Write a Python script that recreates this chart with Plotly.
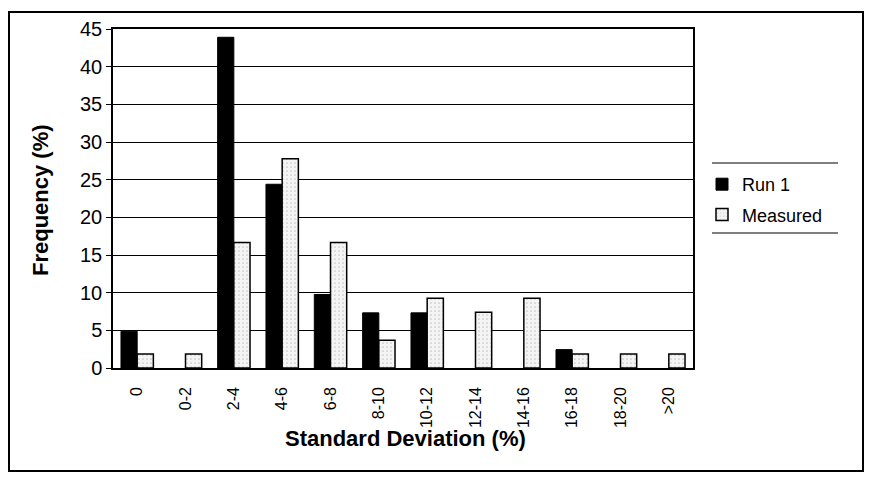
import plotly.graph_objects as go

categories = ["0", "0-2", "2-4", "4-6", "6-8", "8-10", "10-12", "12-14", "14-16", "16-18", "18-20", ">20"]
run1 = [4.88, 0, 43.9, 24.39, 9.76, 7.32, 7.32, 0, 0, 2.44, 0, 0]
measured = [1.85, 1.85, 16.67, 27.78, 16.67, 3.70, 9.26, 7.41, 9.26, 1.85, 1.85, 1.85]
y_ticks = [0, 5, 10, 15, 20, 25, 30, 35, 40, 45]

def nz(vals):
    return [v if v > 0 else None for v in vals]

fig = go.Figure()
fig.add_trace(go.Bar(x=categories, y=nz(run1), name="Run 1", legendgroup="a",
                     marker=dict(color="black", line=dict(color="black", width=1))))
fig.add_trace(go.Bar(x=categories, y=nz(measured), name="Measured", legendgroup="b",
                     marker=dict(color="#f4f4f4", line=dict(color="black", width=1.5),
                                 pattern=dict(shape=".", fgcolor="#9a9a9a", size=4, solidity=0.15))))

W, H = 856, 464
L, T = 105, 21
PR, PB = 685, 360
pw, ph = PR - L, PB - T

def px(x):
    return (x - L) / pw

def py(y):
    return (PB - y) / ph

fig.update_layout(
    width=W, height=H,
    margin=dict(l=L, r=W - PR, t=T, b=H - PB, autoexpand=False),
    paper_bgcolor="white", plot_bgcolor="white",
    barmode="group", bargap=0.33, bargroupgap=0,
    font=dict(family="Arial, Liberation Sans, sans-serif", color="black", size=17),
    showlegend=True,
    legend=dict(x=px(694), y=py(158), xanchor="left", yanchor="top",
                font=dict(size=18), bgcolor="rgba(0,0,0,0)", tracegroupgap=4,
                itemwidth=30),
    xaxis=dict(tickangle=-90, tickfont=dict(size=16), showline=True, linecolor="black",
               linewidth=1.5, mirror=True, ticks="outside", ticklen=11,
               tickcolor="rgba(0,0,0,0)", showgrid=False),
    yaxis=dict(range=[0, 45], tickvals=y_ticks, showgrid=True, gridcolor="black", gridwidth=1,
               showline=True, linecolor="black", linewidth=1.5, mirror=True,
               ticks="outside", ticklen=5, tickcolor="black", tickfont=dict(size=20)),
    annotations=[
        dict(text="<b>Standard Deviation (%)</b>", xref="paper", yref="paper",
             x=px(397), y=py(430), xanchor="center", yanchor="middle",
             showarrow=False, font=dict(size=22)),
        dict(text="<b>Frequency (%)</b>", xref="paper", yref="paper",
             x=px(32), y=py(192), xanchor="center", yanchor="middle", textangle=-90,
             showarrow=False, font=dict(size=22)),
    ],
    shapes=[
        dict(type="rect", xref="paper", yref="paper",
             x0=px(1), x1=px(855), y0=py(463), y1=py(4),
             line=dict(color="black", width=2), fillcolor="rgba(0,0,0,0)"),
        dict(type="line", xref="paper", yref="paper",
             x0=px(704), x1=px(830), y0=py(155), y1=py(155),
             line=dict(color="black", width=1)),
        dict(type="line", xref="paper", yref="paper",
             x0=px(704), x1=px(830), y0=py(225), y1=py(225),
             line=dict(color="black", width=1)),
    ],
)

fig.write_html("out.html")
